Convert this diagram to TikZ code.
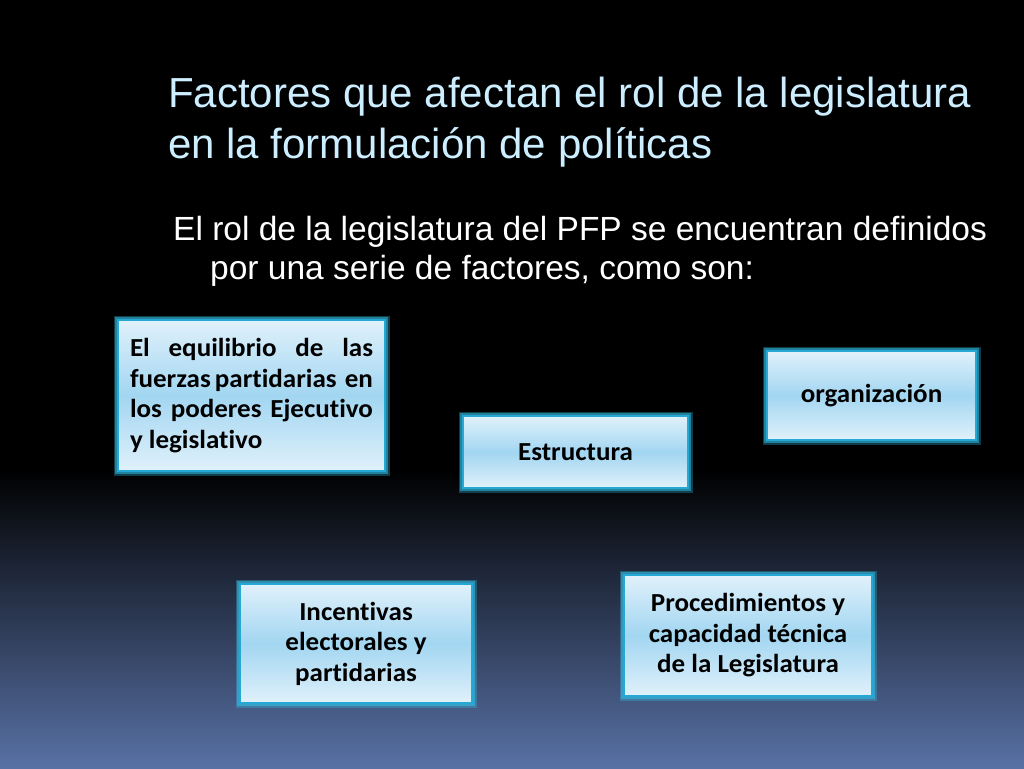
\documentclass[tikz,border=0pt]{standalone}
\usepackage{fontspec}
\setmainfont{Liberation Sans}
\newfontfamily\boxfont[FakeStretch=1.04,Ligatures=NoCommon]{Carlito}
\usetikzlibrary{positioning}

\definecolor{titlecyan}{RGB}{204,238,255}
\definecolor{slateblue}{RGB}{88,113,165}
\definecolor{boxedge}{RGB}{38,168,212}
\definecolor{boxglow}{RGB}{50,200,240}
\definecolor{boxlight}{RGB}{224,241,251}
\definecolor{boxmid}{RGB}{162,214,241}

\begin{document}
\begin{tikzpicture}[x=1pt,y=-1pt,
  factor/.style={draw=boxedge,line width=2.4pt,
    preaction={draw=boxglow,line width=9pt,opacity=0.3},
    preaction={draw=boxglow,line width=5.5pt,opacity=0.5},
    top color=boxlight,bottom color=boxlight,middle color=boxmid,
    font=\boxfont\bfseries\fontsize{26}{30.5}\selectfont,text=black,
    inner sep=0pt,align=center}]
  \useasboundingbox (0,0) rectangle (1024,768);
  % background
  \fill[black] (0,0) rectangle (1024,472);
  \shade[top color=black,bottom color=slateblue] (0,470) rectangle (1024,768);

  \node[anchor=north west,align=left,text=titlecyan,inner sep=0pt,
    font=\fontsize{42}{51}\selectfont] (title) at (168,77)
    {Factores que afectan el rol de la legislatura\\en la formulación de políticas};
  \node[anchor=north west,align=left,text=white,inner sep=0pt,
    font=\fontsize{33.5}{39}\selectfont] (intro) at (173,216)
    {El rol de la legislatura del PFP se encuentran definidos\\\hspace*{37pt}por una serie de factores, como son:};

  \node[factor,minimum width=267pt,minimum height=151pt,text width=243pt,align=justify] (1) at (251.5,395.5)
    {El equilibrio de las fuerzas partidarias\ \ en los poderes Ejecutivo y legislativo};
  \node[factor,minimum width=225pt,minimum height=72pt] (2) at (575.5,452) {Estructura};
  \node[factor,minimum width=209pt,minimum height=89pt] (3) at (871.5,395.5) {organización};
  \node[factor,minimum width=232pt,minimum height=119pt] (4) at (356,643.5)
    {Incentivas\\electorales y\\partidarias};
  \node[factor,minimum width=248pt,minimum height=121pt] (5) at (748,635.5)
    {Procedimientos y\\capacidad técnica\\de la Legislatura};
\end{tikzpicture}
\end{document}
